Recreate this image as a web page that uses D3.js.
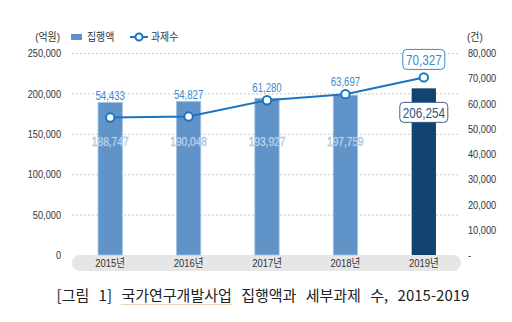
<!DOCTYPE html>
<html><head><meta charset="utf-8">
<script src="https://cdn.jsdelivr.net/npm/d3@7/dist/d3.min.js"></script>
<style>
body{margin:0;background:#fff;}
svg{display:block;font-family:"Liberation Sans","Noto Sans CJK KR",sans-serif;}
</style></head><body>
<svg id="c" width="512" height="322"></svg>
<script>
const years = ["2015년","2016년","2017년","2018년","2019년"];
const amount = [188747,190048,193927,197759,206254];   // 집행액 (억원)
const tasks = [54433,54827,61280,63697,70327];          // 과제수 (건)
const leftTicks = [0,50000,100000,150000,200000,250000];
const rightTicks = [0,10000,20000,30000,40000,50000,60000,70000,80000];
const legendNames = ["집행액","과제수"];
const unitLeft = "(억원)", unitRight = "(건)";
const caption = ["[그림 1] ", "국가연구개발사업", " 집행액과 세부과제 수, 2015-2019"];

const svg = d3.select("#c");
const x = d3.scaleBand().domain(years).range([71,463]).paddingInner(0.69).paddingOuter(0.345);
const yL = d3.scaleLinear().domain([0,250000]).range([255,53]);
const yR = d3.scaleLinear().domain([0,80000]).range([255,53]);
const fmt = d3.format(",");
const barCol = "#6093c7", lastCol = "#11446f", lineCol = "#1a74c2", labCol = "#3b8bd0";

// squeeze text horizontally to mimic the condensed font of the original
function condense(sel, f){
  sel.each(function(){
    const w = this.getComputedTextLength();
    d3.select(this).attr("textLength", w*f).attr("lengthAdjust","spacingAndGlyphs");
  });
}

// gridlines
svg.append("g").selectAll("line").data(leftTicks.filter(d=>d>0)).join("line")
  .attr("x1",72).attr("x2",460).attr("y1",d=>yL(d)+0.5).attr("y2",d=>yL(d)+0.5)
  .attr("stroke","#c9c9c9").attr("stroke-dasharray","2,2");

// category band
svg.append("rect").attr("x",72).attr("y",yL(0)).attr("width",389).attr("height",16).attr("rx",8).attr("fill","#e6e6e6");

// left axis
const gL = svg.append("g").attr("transform","translate(61,0)")
  .call(d3.axisLeft(yL).tickValues(leftTicks).tickSize(0).tickPadding(0).tickFormat(fmt));
gL.select(".domain").remove();
gL.selectAll("text").attr("font-size",11.5).attr("fill","#333").attr("font-family",null);
condense(gL.selectAll("text"),0.8);

// right axis
const gR = svg.append("g").attr("transform","translate(468,0)")
  .call(d3.axisRight(yR).tickValues(rightTicks).tickSize(0).tickPadding(0).tickFormat(d=>d===0?"-":fmt(d)));
gR.select(".domain").remove();
gR.selectAll("text").attr("font-size",11.5).attr("fill","#333").attr("font-family",null);
condense(gR.selectAll("text"),0.8);

// x labels
const xl = svg.append("g").selectAll("text").data(years).join("text")
  .attr("x",d=>x(d)+x.bandwidth()/2).attr("y",yL(0)+12).attr("text-anchor","middle")
  .attr("font-size",11.5).attr("fill","#333").text(d=>d);
condense(xl,0.82);

// bars
svg.append("g").selectAll("rect").data(amount).join("rect")
  .attr("x",(d,i)=>x(years[i])).attr("width",x.bandwidth())
  .attr("y",d=>yL(d)).attr("height",d=>yL(0)-yL(d))
  .attr("fill",(d,i)=>i===amount.length-1?lastCol:barCol)
  .attr("stroke",(d,i)=>i===amount.length-1?"none":"#a8c3e2").attr("stroke-width",0.8);

// bar value labels
const n = years.length;
const bl = svg.append("g").selectAll("text").data(amount.slice(0,n-1)).join("text")
  .attr("x",(d,i)=>x(years[i])+x.bandwidth()/2).attr("y",yL(140000)).attr("dy","0.35em")
  .attr("text-anchor","middle").attr("font-size",13)
  .attr("fill","#eef3fa").attr("stroke","#8fb3dc").attr("stroke-width",0.5)
  .text(d=>fmt(d));
condense(bl,0.78);
// last bar label box
{
  const d = amount[n-1], cx = x(years[n-1])+x.bandwidth()/2, cy = yL(d)+24;
  svg.append("rect").attr("x",cx-24).attr("y",cy-10).attr("width",48).attr("height",20).attr("rx",4)
    .attr("fill","#fff").attr("stroke","#3d6189").attr("stroke-width",1);
  const t = svg.append("text").attr("x",cx).attr("y",cy).attr("dy","0.36em").attr("text-anchor","middle")
    .attr("font-size",15).attr("fill","#2f5683").text(fmt(d));
  condense(t,0.78);
}

// line
const line = d3.line().x((d,i)=>x(years[i])+x.bandwidth()/2).y(d=>yR(d));
svg.append("path").datum(tasks).attr("d",line).attr("fill","none").attr("stroke",lineCol).attr("stroke-width",2);
svg.append("g").selectAll("circle").data(tasks).join("circle")
  .attr("cx",(d,i)=>x(years[i])+x.bandwidth()/2).attr("cy",d=>yR(d)).attr("r",4.2)
  .attr("fill","#fff").attr("stroke",lineCol).attr("stroke-width",2);

// line labels
const ll = svg.append("g").selectAll("text").data(tasks.slice(0,n-1)).join("text")
  .attr("x",(d,i)=>x(years[i])+x.bandwidth()/2)
  .attr("y",(d,i)=>Math.min(yR(d)-13, yL(amount[i])-7)).attr("dy","0.36em")
  .attr("text-anchor","middle").attr("font-size",13).attr("fill",labCol).text(d=>fmt(d));
condense(ll,0.74);
{
  const d = tasks[n-1], cx = x(years[n-1])+x.bandwidth()/2, cy = yR(d)-18;
  svg.append("rect").attr("x",cx-21).attr("y",cy-10).attr("width",42).attr("height",20).attr("rx",4)
    .attr("fill","#fff").attr("stroke",labCol).attr("stroke-width",1);
  const t = svg.append("text").attr("x",cx).attr("y",cy).attr("dy","0.36em").attr("text-anchor","middle")
    .attr("font-size",15).attr("fill",labCol).text(fmt(d));
  condense(t,0.78);
}

// legend
const lg = svg.append("g").attr("font-size",11).attr("fill","#333");
lg.append("text").attr("x",60).attr("y",37).attr("dy","0.35em").attr("text-anchor","end").text(unitLeft);
svg.append("rect").attr("x",71).attr("y",34).attr("width",11).attr("height",6).attr("fill",barCol);
lg.append("text").attr("x",87).attr("y",37).attr("dy","0.35em").text(legendNames[0]);
svg.append("line").attr("x1",130).attr("x2",148).attr("y1",37).attr("y2",37).attr("stroke",lineCol).attr("stroke-width",2);
svg.append("circle").attr("cx",139).attr("cy",37).attr("r",3.5).attr("fill","#fff").attr("stroke",lineCol).attr("stroke-width",2);
lg.append("text").attr("x",151).attr("y",37).attr("dy","0.35em").text(legendNames[1]);
lg.append("text").attr("x",467).attr("y",37).attr("dy","0.35em").text(unitRight);
condense(lg.selectAll("text"),0.9);

// caption
const cap = svg.append("text").attr("x",263).attr("y",296).attr("dy","0.35em").attr("text-anchor","middle")
  .attr("font-size",15).attr("fill","#222").attr("font-family","'Noto Sans CJK KR',sans-serif").style("word-spacing","6px");
cap.selectAll("tspan").data(caption).join("tspan").text(d=>d);
const sub = cap.selectAll("tspan").nodes()[1];
const bb = sub.getBBox();
svg.append("line").attr("x1",bb.x).attr("x2",bb.x+bb.width).attr("y1",304.5).attr("y2",304.5)
  .attr("stroke","#f0a050").attr("stroke-width",1).attr("stroke-dasharray","1,1");
</script></body></html>
